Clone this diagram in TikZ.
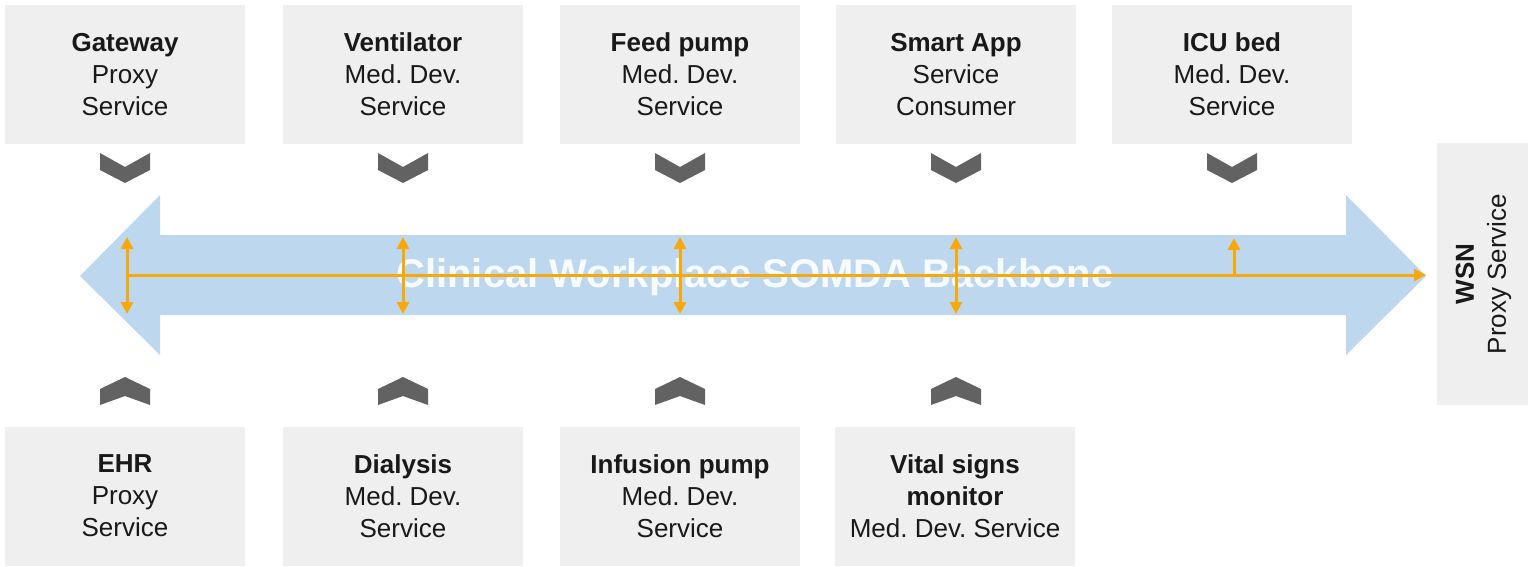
\documentclass[tikz,border=0pt]{standalone}
\usepackage{fontspec}
\setmainfont{Liberation Sans}
\usetikzlibrary{arrows.meta}
\frenchspacing
\definecolor{boxgray}{RGB}{239,239,239}
\definecolor{chevgray}{RGB}{98,98,98}
\definecolor{bbblue}{RGB}{189,215,238}
\definecolor{bborange}{RGB}{248,168,8}
\tikzset{
  svcbox/.style={fill=boxgray, draw=none, minimum width=240pt, minimum height=139pt, inner sep=0pt,
    align=center, font=\fontsize{26}{32}\selectfont, text=black!90},
  chev/.style={fill=chevgray, draw=none},
  tip/.style={Triangle[length=12pt,width=12pt]},
  bbarrow/.style={draw=bborange, line width=3pt, -{Triangle[length=12pt,width=12pt]}},
  bbdouble/.style={draw=bborange, line width=3pt, {Triangle[length=12pt,width=12pt]}-{Triangle[length=12pt,width=12pt]}}
}
\newcommand{\chevdown}[1]{\fill[chev] (#1-25,153) -- (#1,167) -- (#1+25,153) -- (#1+25,170) -- (#1,183) -- (#1-25,170) -- cycle;}
\newcommand{\chevup}[1]{\fill[chev] (#1-25,405) -- (#1,396) -- (#1+25,405) -- (#1+25,389) -- (#1,377) -- (#1-25,389) -- cycle;}
\begin{document}
\begin{tikzpicture}[x=1pt,y=-1pt]
\useasboundingbox (0,0) rectangle (1528,567);
% top boxes
\node[svcbox] (gw)   at (125,74.5)  {\textbf{Gateway}\\Proxy\\Service};
\node[svcbox] (vent) at (403,74.5)  {\textbf{Ventilator}\\Med. Dev.\\Service};
\node[svcbox] (feed) at (680,74.5)  {\textbf{Feed pump}\\Med. Dev.\\Service};
\node[svcbox] (app)  at (956,74.5)  {\textbf{Smart App}\\Service\\Consumer};
\node[svcbox] (icu)  at (1232,74.5) {\textbf{ICU bed}\\Med. Dev.\\Service};
% bottom boxes
\node[svcbox] (ehr)  at (125,496)  {\textbf{EHR}\\Proxy\\Service};
\node[svcbox] (dia)  at (403,496)  {\textbf{Dialysis}\\Med. Dev.\\Service};
\node[svcbox] (inf)  at (680,496)  {\textbf{Infusion pump}\\Med. Dev.\\Service};
\node[svcbox] (vsm)  at (955,496)  {\textbf{Vital signs}\\\textbf{monitor}\\Med. Dev. Service};
% WSN box
\node[svcbox, minimum width=91pt, minimum height=262pt] (wsn) at (1482.5,274) {};
\node[rotate=90, align=center, font=\fontsize{26}{32}\selectfont, text=black!90] (wsnt) at ([xshift=1pt]wsn.center) {\textbf{WSN}\\Proxy Service};
% chevrons
\chevdown{125}\chevdown{403}\chevdown{680}\chevdown{956}\chevdown{1232}
\chevup{125}\chevup{403}\chevup{680}\chevup{956}
% backbone arrow
\fill[bbblue] (80,276) -- (160,195) -- (160,235) -- (1346,235) -- (1346,195) -- (1426,276)
  -- (1346,355) -- (1346,315) -- (160,315) -- (160,355) -- cycle;
\node[font=\fontsize{40}{44}\selectfont\bfseries, text=white, opacity=0.9] (bbtext) at (755,277) {Clinical Workplace SOMDA Backbone};
% orange connectors
\coordinate (l0) at (126,275);
\coordinate (r0) at (1426,275);
\draw[bbarrow] (l0) -- (r0);
\foreach \x/\n in {127/a,403/b,680/c,956/d}{
  \coordinate (\n t) at (\x,237);
  \coordinate (\n b) at (\x,314);
  \draw[bbdouble] (\n t) -- (\n b);
}
\coordinate (e0) at (1234,276);
\coordinate (et) at (1234,238);
\draw[bbarrow] (e0) -- (et);
\end{tikzpicture}
\end{document}
